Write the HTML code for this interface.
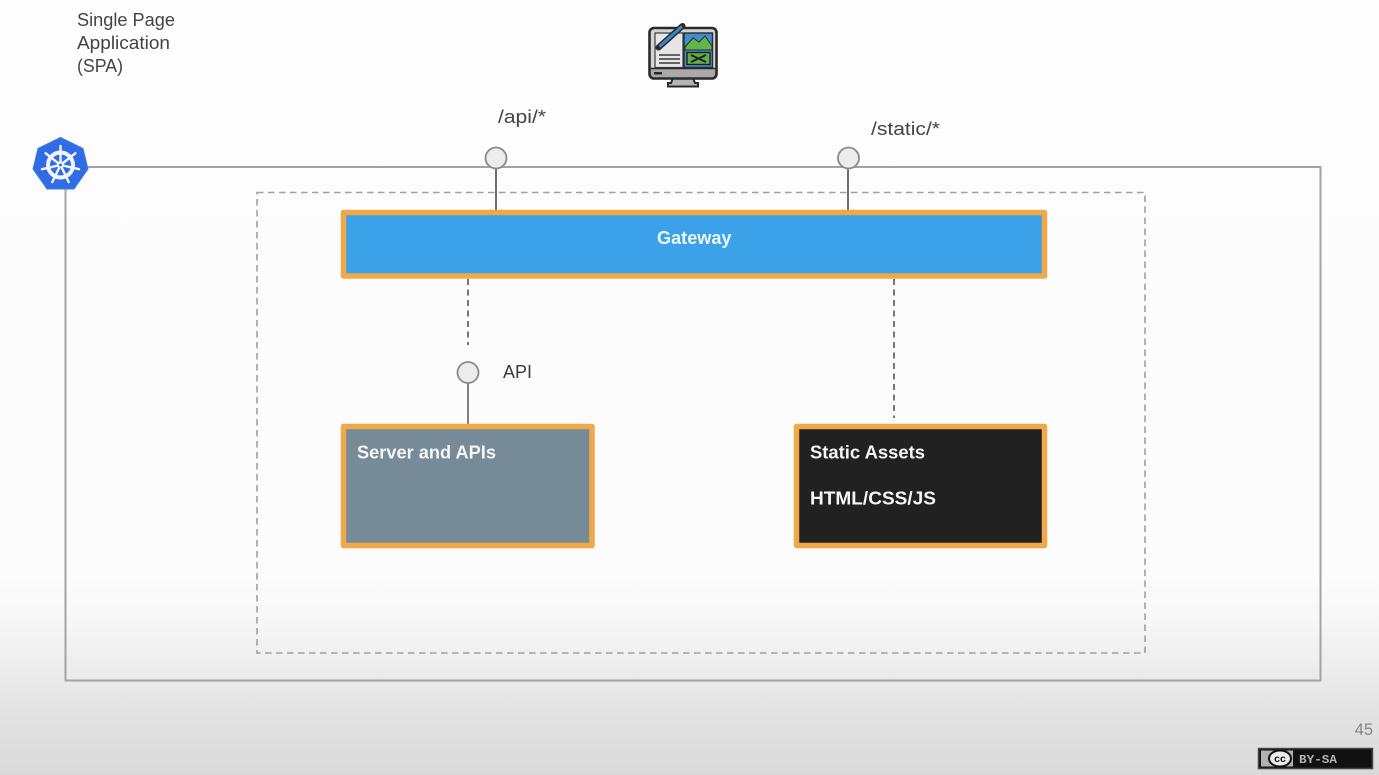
<!DOCTYPE html>
<html>
<head>
<meta charset="utf-8">
<style>
html,body{margin:0;padding:0;width:1379px;height:775px;overflow:hidden;background:#fdfdfd}
svg{display:block;position:absolute;left:0;top:0;filter:blur(0.35px)}
text{font-family:"Liberation Sans",sans-serif}
</style>
</head>
<body>
<svg width="1379" height="775" viewBox="0 0 1379 775" xmlns="http://www.w3.org/2000/svg">
<defs>
<linearGradient id="bg" x1="0" y1="0" x2="0" y2="1">
<stop offset="0" stop-color="#fdfdfd"/>
<stop offset="0.74" stop-color="#fcfcfc"/>
<stop offset="0.80" stop-color="#f7f7f7"/>
<stop offset="0.86" stop-color="#ededed"/>
<stop offset="0.92" stop-color="#e3e3e3"/>
<stop offset="1" stop-color="#d9d9d9"/>
</linearGradient>
</defs>
<rect width="1379" height="775" fill="url(#bg)"/>

<!-- outer cluster -->
<rect x="65.5" y="167" width="1255" height="513.500" fill="none" stroke="#a3a3a3" stroke-width="2"/>
<!-- namespace dashed -->
<rect x="257" y="192.500" width="888" height="460.500" fill="none" stroke="#a0a0a0" stroke-width="1.600" stroke-dasharray="6.500 4.500"/>

<!-- connectors -->
<line x1="496" y1="168" x2="496" y2="211" stroke="#6f6f6f" stroke-width="2"/>
<line x1="848" y1="168" x2="848" y2="211" stroke="#6f6f6f" stroke-width="2"/>
<line x1="468" y1="279" x2="468" y2="345" stroke="#777" stroke-width="2" stroke-dasharray="6 4.500"/>
<line x1="894" y1="279" x2="894" y2="418" stroke="#777" stroke-width="2" stroke-dasharray="6 4.500"/>
<line x1="468" y1="383" x2="468" y2="425" stroke="#808080" stroke-width="2"/>

<!-- ports -->
<circle cx="496" cy="158" r="10.500" fill="#ececec" stroke="#8a8a8a" stroke-width="1.800"/>
<circle cx="848.500" cy="158" r="10.500" fill="#ececec" stroke="#8a8a8a" stroke-width="1.800"/>
<circle cx="468" cy="372.500" r="10.500" fill="#ececec" stroke="#8a8a8a" stroke-width="1.800"/>

<!-- boxes -->
<rect x="343.500" y="212.500" width="701" height="63.500" fill="#3ba1e8" stroke="#f0a848" stroke-width="5.500" stroke-linejoin="round"/>
<rect x="343.500" y="426.500" width="248.500" height="119" fill="#778a97" stroke="#f0a848" stroke-width="5.500" stroke-linejoin="round"/>
<rect x="796.500" y="426.500" width="248" height="119" fill="#212121" stroke="#f0a848" stroke-width="5.500" stroke-linejoin="round"/>

<!-- labels -->
<text x="657" y="244" textLength="74.500" lengthAdjust="spacingAndGlyphs" font-size="18" font-weight="bold" fill="#eef6fc">Gateway</text>
<text x="357" y="458.500" textLength="139" lengthAdjust="spacingAndGlyphs" font-size="18" font-weight="bold" fill="#f4f6f7">Server and APIs</text>
<text x="810" y="458.500" textLength="115" lengthAdjust="spacingAndGlyphs" font-size="18" font-weight="bold" fill="#f6f6f6">Static Assets</text>
<text x="810" y="504.500" textLength="126" lengthAdjust="spacingAndGlyphs" font-size="18" font-weight="bold" fill="#f6f6f6">HTML/CSS/JS</text>
<text x="503" y="378" textLength="29" lengthAdjust="spacingAndGlyphs" font-size="18" fill="#3c3c3c">API</text>
<text x="498" y="123" textLength="48" lengthAdjust="spacingAndGlyphs" font-size="18" fill="#444">/api/*</text>
<text x="871" y="135" textLength="69" lengthAdjust="spacingAndGlyphs" font-size="18" fill="#444">/static/*</text>
<text x="77" y="26" textLength="98" lengthAdjust="spacingAndGlyphs" font-size="18" fill="#444">Single Page</text>
<text x="77" y="49" textLength="93" lengthAdjust="spacingAndGlyphs" font-size="18" fill="#444">Application</text>
<text x="77" y="72" textLength="46" lengthAdjust="spacingAndGlyphs" font-size="18" fill="#444">(SPA)</text>
<text x="1373" y="735" text-anchor="end" font-size="16.500" fill="#858585">45</text>

<!-- kubernetes logo -->
<polygon points="60.500,137.500 83,148.500 88,169 74,189 47,189 33,169 38,148.500" fill="#326ce5" stroke="#3f7ae8" stroke-width="1" stroke-linejoin="round"/>
<g fill="none" stroke="#f2f5fc" stroke-linecap="round">
<circle cx="60.500" cy="165" r="12.500" stroke-width="4"/>
<g stroke-width="2.400">
<line x1="60.500" y1="146" x2="60.500" y2="165"/>
<line x1="75.400" y1="153.200" x2="60.500" y2="165"/>
<line x1="79" y1="169.200" x2="60.500" y2="165"/>
<line x1="68.700" y1="182.100" x2="60.500" y2="165"/>
<line x1="52.300" y1="182.100" x2="60.500" y2="165"/>
<line x1="42" y1="169.200" x2="60.500" y2="165"/>
<line x1="45.600" y1="153.200" x2="60.500" y2="165"/>
</g>
</g>
<circle cx="60.500" cy="165" r="3.500" fill="#f2f5fc"/>
<circle cx="60.500" cy="165" r="1.500" fill="#326ce5"/>

<!-- monitor icon -->
<g>
<path d="M673 78 h20 l2 5 h3 v3.500 h-30 v-3.500 h3 z" fill="#b5b5b5" stroke="#2a2a2a" stroke-width="2"/>
<rect x="649.500" y="28" width="67" height="50.500" rx="4.500" fill="#d4d4d4" stroke="#2a2a2a" stroke-width="2.600"/>
<path d="M650 68.500 h66 v5.500 a4 4 0 0 1 -4 4 h-58 a4 4 0 0 1 -4 -4 z" fill="#a9a9a9" stroke="#2a2a2a" stroke-width="1.600"/>
<rect x="655" y="33" width="28" height="34.500" fill="#e6e6e6" stroke="#3a3a3a" stroke-width="1.200"/>
<rect x="684" y="33" width="28.500" height="34.500" fill="#3f8fd0" stroke="#2a2a2a" stroke-width="1.400"/>
<polygon points="685,47 693,38 699,42 705,36 712,46 712,50 685,50" fill="#63b54a" stroke="#2a2a2a" stroke-width="1"/>
<rect x="687" y="52.500" width="23" height="12" fill="#5fae46" stroke="#1f1f1f" stroke-width="1.400"/>
<path d="M691 55 l15 7 M706 55 l-15 7" stroke="#1f1f1f" stroke-width="1.800"/>
<path d="M658.500 47.500 L682.500 26" stroke="#2a2a2a" stroke-width="6" stroke-linecap="round"/>
<path d="M659.500 46.500 L682 26.500" stroke="#3e86c9" stroke-width="3"/>
<g stroke="#3a3a3a" stroke-width="1.400">
<line x1="659" y1="55" x2="680" y2="55"/>
<line x1="659" y1="59" x2="680" y2="59"/>
<line x1="659" y1="63" x2="680" y2="63"/>
</g>
<rect x="654" y="72" width="8" height="2.500" fill="#2a2a2a"/>
</g>

<!-- cc badge -->
<rect x="1258.500" y="748.500" width="114" height="20" fill="#111" stroke="#444" stroke-width="1.500"/>
<rect x="1261" y="750.500" width="32" height="16" fill="#b0b0b0"/>
<ellipse cx="1280" cy="758.500" rx="11" ry="8" fill="#eaeaea" stroke="#111" stroke-width="2"/>
<text x="1280" y="762" text-anchor="middle" font-size="10.500" font-weight="bold" fill="#111">cc</text>
<text x="1299" y="763" textLength="38" lengthAdjust="spacingAndGlyphs" font-size="12" font-weight="bold" fill="#b5b5b5" style="font-family:'Liberation Mono',monospace">BY-SA</text>
</svg>
</body>
</html>
